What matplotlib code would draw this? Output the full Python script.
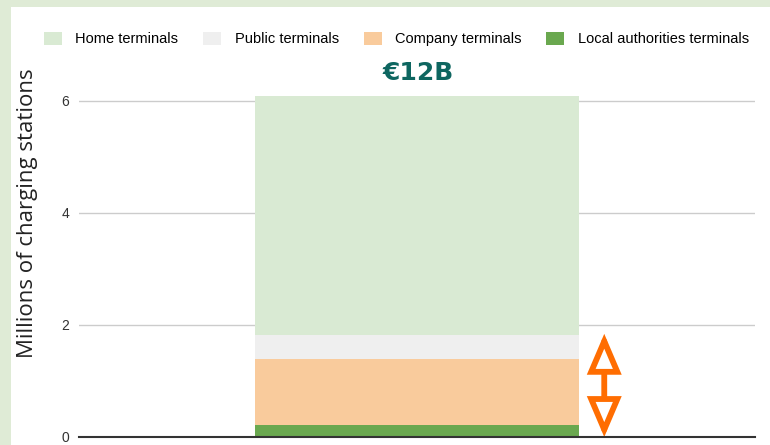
import matplotlib.pyplot as plt
from matplotlib.patches import Rectangle

# data (millions of charging stations)
categories = ['Home terminals', 'Public terminals', 'Company terminals', 'Local authorities terminals']
values = [4.27, 0.43, 1.18, 0.21]
colors = ['#d9ead3', '#efefef', '#f9cb9c', '#6aa84f']
stack_order = [3, 2, 1, 0]   # drawn bottom to top
total_label = '€12B'
arrow_span = 1.84            # height covered by the orange double arrow
yticks = [0, 2, 4, 6]

plt.rcParams['font.family'] = ['Liberation Sans', 'DejaVu Sans']

fig = plt.figure(figsize=(7.7, 4.45), dpi=100)
fig.patch.set_facecolor('#dfebd6')
fig.patches.append(Rectangle((11 / 770, 0), 1, (445 - 7) / 445, transform=fig.transFigure,
                             facecolor='white', edgecolor='none', zorder=-10))

ax = fig.add_axes([79 / 770, 8 / 445, 676 / 770, 370 / 445])
ax.set_facecolor('none')

bottom = 0
bars = {}
for i in stack_order:
    bars[i] = ax.bar(0, values[i], width=0.48, bottom=bottom, color=colors[i],
                     label=categories[i], zorder=2)
    bottom += values[i]

ax.text(0.002, bottom + 0.4, total_label, ha='center', va='center', fontsize=18,
        fontweight='bold', color='#0e6660', family=['DejaVu Sans'], clip_on=False)

# double arrow with hollow heads
ax.annotate('', xy=(0.277, 0.0), xytext=(0.277, arrow_span),
            arrowprops=dict(arrowstyle='<|-|>, head_length=1.1, head_width=0.47',
                            mutation_scale=20, shrinkA=0, shrinkB=0,
                            facecolor='white', edgecolor='#ff6d01', linewidth=4.2,
                            joinstyle='miter'), zorder=3)

ax.set_xlim(-0.5, 0.5)
ax.set_ylim(0, 6.6)
ax.set_yticks(yticks)
ax.set_xticks([])
ax.tick_params(axis='y', length=0, pad=7, labelsize=10, labelcolor='#333333')
ax.grid(axis='y', color='#cccccc', linewidth=1, zorder=1)
for s in ['top', 'right', 'left']:
    ax.spines[s].set_visible(False)
ax.spines['bottom'].set_color('#333333')
ax.spines['bottom'].set_linewidth(1.5)
ax.spines['bottom'].set_zorder(4)

ax.set_ylabel('Millions of charging stations', fontsize=16, color='#222222',
              family=['Open Sans', 'DejaVu Sans'])
ax.yaxis.set_label_coords(-0.0607, 0.605)

handles = [bars[i] for i in range(4)]
fig.legend(handles, categories, ncol=4, frameon=False, fontsize=10.5,
           loc='center left', bbox_to_anchor=(31 / 770, 1 - 39 / 445),
           handlelength=1.25, handleheight=1.05, handletextpad=0.9,
           columnspacing=1.7)

fig.savefig('out.png', dpi=100, facecolor=fig.get_facecolor())
